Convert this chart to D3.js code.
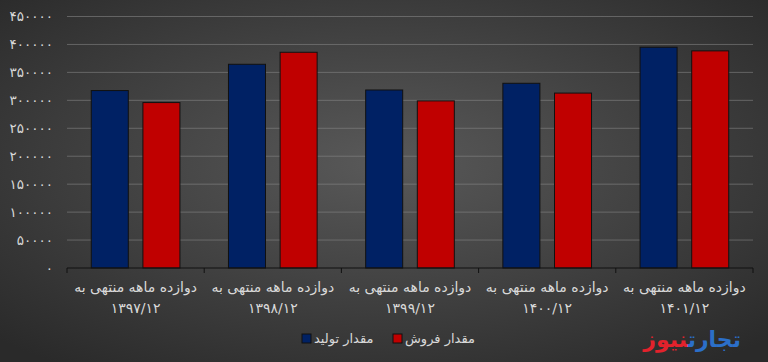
<!DOCTYPE html>
<html>
<head>
<meta charset="utf-8">
<script src="https://cdn.jsdelivr.net/npm/d3@7"></script>
<style>
  body { margin: 0; background: #333; }
  svg { display: block; }
  text { font-family: "DejaVu Sans", "Noto Sans", sans-serif; }
</style>
</head>
<body>
<div id="chart"></div>
<script>
// categories (two-line labels)
const catLine1 = ["دوازده ماهه منتهی به", "دوازده ماهه منتهی به", "دوازده ماهه منتهی به", "دوازده ماهه منتهی به", "دوازده ماهه منتهی به"];
const catLine2 = ["۱۳۹۷/۱۲", "۱۳۹۸/۱۲", "۱۳۹۹/۱۲", "۱۴۰۰/۱۲", "۱۴۰۱/۱۲"];
// series
const seriesNames = ["مقدار تولید", "مقدار فروش"];
const production = [317500, 364500, 318500, 330500, 395000];
const sales = [296000, 386000, 299000, 313000, 388500];
const yTicks = [0, 50000, 100000, 150000, 200000, 250000, 300000, 350000, 400000, 450000];
const colors = ["#002164", "#c00000"];

const W = 768, H = 362;
const margin = { top: 16.5, right: 15, bottom: 94, left: 67 };
const innerW = W - margin.left - margin.right;
const innerH = H - margin.top - margin.bottom;

const faDigits = s => String(s).replace(/\d/g, d => "۰۱۲۳۴۵۶۷۸۹"[d]);

const svg = d3.select("#chart").append("svg")
  .attr("width", W).attr("height", H);

// background gradient
const defs = svg.append("defs");
const grad = defs.append("radialGradient").attr("id", "bg")
  .attr("cx", "50%").attr("cy", "45%").attr("r", "70%");
grad.append("stop").attr("offset", "0%").attr("stop-color", "#595959");
grad.append("stop").attr("offset", "100%").attr("stop-color", "#2a2a2a");
svg.append("rect").attr("width", W).attr("height", H).attr("fill", "url(#bg)");

const g = svg.append("g").attr("transform", `translate(${margin.left},${margin.top})`);

const x0 = d3.scaleBand().domain(d3.range(catLine1.length)).range([0, innerW]).padding(0);
const x1 = d3.scaleBand().domain([0, 1]).range([0, x0.bandwidth()])
  .paddingInner(0.283).paddingOuter(0.47);
const y = d3.scaleLinear().domain([0, 450000]).range([innerH, 0]);

// gridlines
g.append("g")
  .selectAll("line").data(yTicks.filter(d => d > 0)).join("line")
  .attr("x1", 0).attr("x2", innerW)
  .attr("y1", d => y(d)).attr("y2", d => y(d))
  .attr("stroke", "#8a8a8a").attr("stroke-opacity", 0.55).attr("stroke-width", 1);

// y axis labels
g.append("g")
  .call(d3.axisLeft(y).tickValues(yTicks).tickFormat(faDigits).tickSize(0).tickPadding(14))
  .call(a => a.select(".domain").remove())
  .selectAll("text")
  .attr("fill", "#d9d9d9").style("font-size", "13.5px")
  .style("letter-spacing", "0.8px");

// bars
const groups = g.selectAll(".grp").data(d3.range(catLine1.length)).join("g")
  .attr("class", "grp")
  .attr("transform", i => `translate(${x0(i)},0)`);

groups.selectAll("rect")
  .data(i => [production[i], sales[i]].map((v, s) => ({ v, s })))
  .join("rect")
  .attr("x", d => x1(d.s))
  .attr("width", x1.bandwidth())
  .attr("y", d => y(d.v))
  .attr("height", d => innerH - y(d.v))
  .attr("fill", d => colors[d.s])
  .attr("stroke", "#111")
  .attr("stroke-width", 1);

// x axis
const xAxis = g.append("g").attr("transform", `translate(0,${innerH})`);
xAxis.append("line").attr("x1", 0).attr("x2", innerW)
  .attr("stroke", "#111").attr("stroke-width", 1.2);
xAxis.selectAll(".tk").data(d3.range(catLine1.length + 1)).join("line")
  .attr("x1", i => i * x0.step()).attr("x2", i => i * x0.step())
  .attr("y1", 0).attr("y2", 5).attr("stroke", "#111");

const lab = xAxis.selectAll(".lab").data(d3.range(catLine1.length)).join("text")
  .attr("text-anchor", "middle")
  .attr("fill", "#d9d9d9").style("font-size", "14px");
lab.append("tspan").attr("x", i => x0(i) + x0.bandwidth() / 2).attr("y", 24)
  .text(i => catLine1[i]);
lab.append("tspan").attr("x", i => x0(i) + x0.bandwidth() / 2).attr("y", 45)
  .text(i => catLine2[i]);

// legend
const legend = svg.append("g").attr("transform", "translate(302,339)");
const legX = [0, 91];
seriesNames.forEach((name, i) => {
  const lg = legend.append("g").attr("transform", `translate(${legX[i]},0)`);
  lg.append("rect").attr("x", 0).attr("y", -5).attr("width", 9).attr("height", 9)
    .attr("fill", colors[i]).attr("stroke", "#111");
  lg.append("text").attr("x", 12).attr("y", 4).attr("text-anchor", "start")
    .attr("fill", "#d9d9d9").style("font-size", "13px").text(name);
});

// watermark
const wm = svg.append("text").attr("x", 741).attr("y", 347)
  .attr("text-anchor", "start").attr("direction", "rtl")
  .style("font-size", "22px").style("font-weight", "bold");
wm.append("tspan").attr("fill", "#2b6fc9").text("تجارت");
wm.append("tspan").attr("fill", "#e3222c").text("نیوز");
</script>
</body>
</html>
